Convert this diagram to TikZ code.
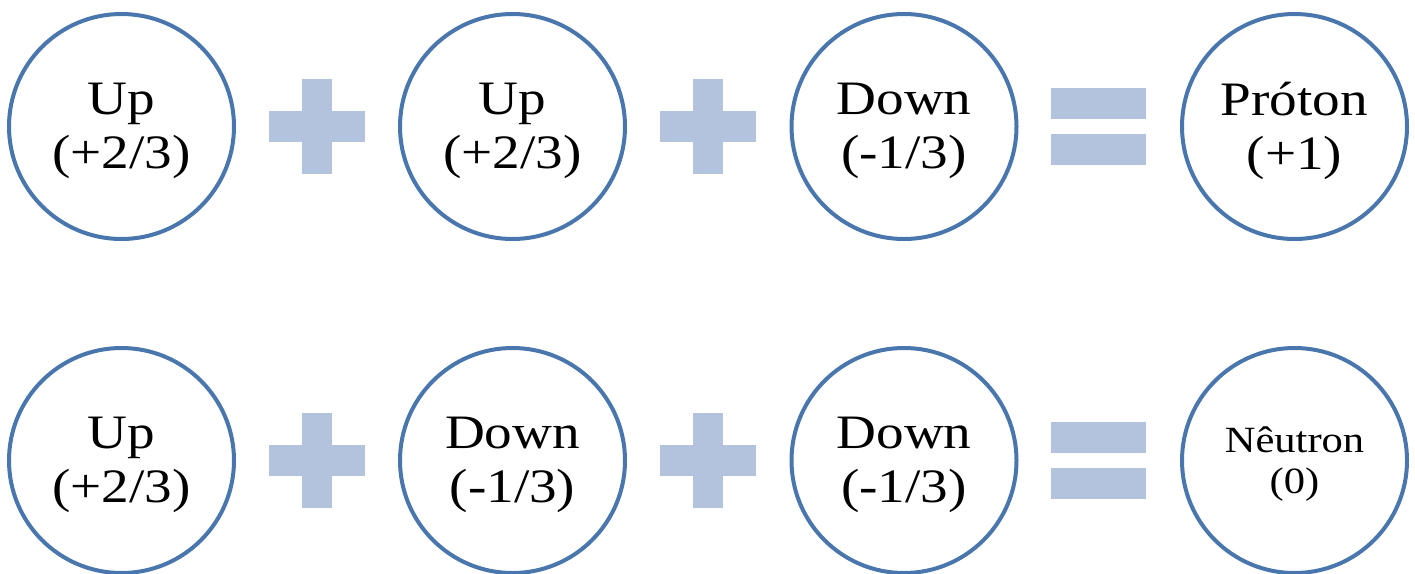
\documentclass[tikz,border=0pt]{standalone}
\usepackage{fontspec}
\setmainfont{Liberation Serif}[FakeStretch=1.15]
\definecolor{ringblue}{HTML}{4A76AE}
\definecolor{opblue}{HTML}{B3C2DD}
\begin{document}
\begin{tikzpicture}[x=1pt,y=-1pt,
  particle/.style={circle,draw=ringblue,line width=4pt,minimum size=225pt,inner sep=0pt},
  qtext/.style={align=center,inner sep=0pt,font=\fontsize{48}{54}\selectfont,yshift=-4.5pt},
  smalltext/.style={align=center,inner sep=0pt,font=\fontsize{37}{41}\selectfont,yshift=-3.5pt},
  plusop/.pic={\fill[opblue] (-15,-47.5) rectangle (15,47.5);
                \fill[opblue] (-48,-15.5) rectangle (48,15.5);},
  equalsop/.pic={\fill[opblue] (-47.5,-38.5) rectangle (47.5,-7.5);
                 \fill[opblue] (-47.5,7.5) rectangle (47.5,38.5);}]
\useasboundingbox (0,0) rectangle (1415,573);
% top row
\node[particle] (a1) at (121.5,126.5) {};
\node[particle] (a2) at (512.5,126.5) {};
\node[particle] (a3) at (904,126.5) {};
\node[particle] (a4) at (1294.5,126.5) {};
\node[qtext] (a1t) at (a1.center) {Up\\(+2/3)};
\node[qtext] (a2t) at (a2.center) {Up\\(+2/3)};
\node[qtext] (a3t) at (a3.center) {Down\\(-1/3)};
\node[qtext] (a4t) at (a4.center) {Próton\\(+1)};
\pic at (317,126.5) {plusop};
\pic at (708,126.5) {plusop};
\pic at (1098.5,126.5) {equalsop};
% bottom row
\node[particle] (b1) at (121.5,460.5) {};
\node[particle] (b2) at (512.5,460.5) {};
\node[particle] (b3) at (904,460.5) {};
\node[particle] (b4) at (1294.5,460.5) {};
\node[qtext] (b1t) at (b1.center) {Up\\(+2/3)};
\node[qtext] (b2t) at (b2.center) {Down\\(-1/3)};
\node[qtext] (b3t) at (b3.center) {Down\\(-1/3)};
\node[smalltext] (b4t) at (b4.center) {Nêutron\\(0)};
\pic at (317,460.5) {plusop};
\pic at (708,460.5) {plusop};
\pic at (1098.5,460.5) {equalsop};
\end{tikzpicture}
\end{document}
